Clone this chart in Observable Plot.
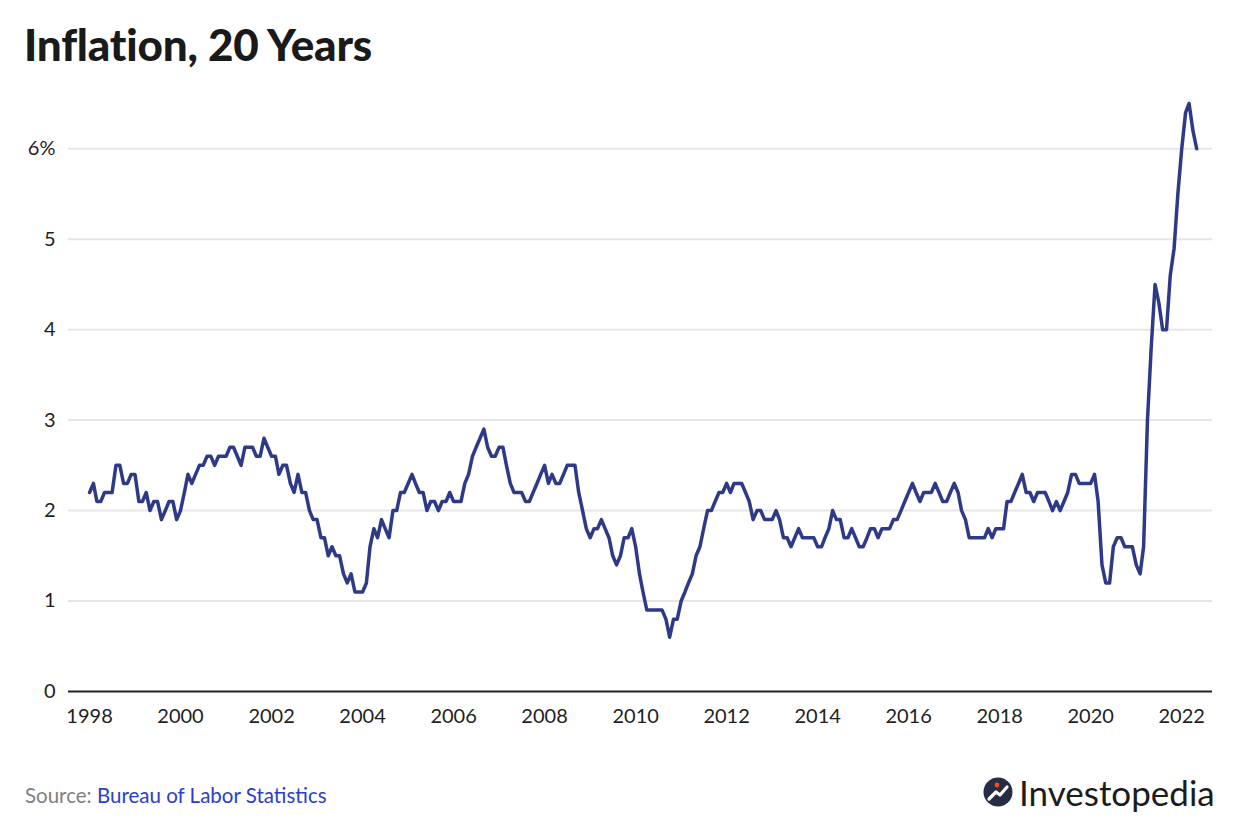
<!DOCTYPE html>
<html>
<head>
<meta charset="utf-8">
<script src="https://cdn.jsdelivr.net/npm/d3@7"></script>
<script src="https://cdn.jsdelivr.net/npm/@observablehq/plot@0.6"></script>
<style>
  html, body { margin: 0; padding: 0; background: #fff; }
  body { width: 1256px; height: 828px; position: relative; overflow: hidden; font-family: Lato, "Noto Sans", sans-serif; }
  #title { position: absolute; left: 24px; top: 22px; font-size: 44px; line-height: 44px; font-weight: 900; color: #1a1a1a; letter-spacing: -0.2px; }
  #chart { position: absolute; left: 0; top: 80px; }
  #source { position: absolute; left: 25px; top: 782px; font-size: 20.5px; line-height: 26px; color: #808080; }
  #source span { color: #2b3dcc; }
  #logo { position: absolute; left: 983px; top: 770px; display: flex; align-items: center; }
  #logo .word { font-size: 35px; line-height: 44px; color: #1c1c1c; font-weight: 400; margin-left: 6px; }
</style>
</head>
<body>
<div id="title">Inflation, 20 Years</div>
<div id="chart"></div>
<div id="source">Source: <span>Bureau of Labor Statistics</span></div>
<div id="logo">
  <svg width="30" height="30" viewBox="0 0 30 30">
    <circle cx="15" cy="15" r="14.5" fill="#262c44"/>
    <path d="M6 22 L13 15 L17 18 L24 10" stroke="#fff" stroke-width="3.2" fill="none" stroke-linecap="round" stroke-linejoin="round"/>
    <circle cx="14" cy="8" r="2.4" fill="#f04e23"/>
  </svg>
  <span class="word">Investopedia</span>
</div>
<script>
// Core CPI, year-over-year % change, monthly from Jan 1998 to May 2022
const startYear = 1998;
const inflation = [
  // 1998
  2.2, 2.3, 2.1, 2.1, 2.2, 2.2, 2.2, 2.5, 2.5, 2.3, 2.3, 2.4,
  // 1999
  2.4, 2.1, 2.1, 2.2, 2.0, 2.1, 2.1, 1.9, 2.0, 2.1, 2.1, 1.9,
  // 2000
  2.0, 2.2, 2.4, 2.3, 2.4, 2.5, 2.5, 2.6, 2.6, 2.5, 2.6, 2.6,
  // 2001
  2.6, 2.7, 2.7, 2.6, 2.5, 2.7, 2.7, 2.7, 2.6, 2.6, 2.8, 2.7,
  // 2002
  2.6, 2.6, 2.4, 2.5, 2.5, 2.3, 2.2, 2.4, 2.2, 2.2, 2.0, 1.9,
  // 2003
  1.9, 1.7, 1.7, 1.5, 1.6, 1.5, 1.5, 1.3, 1.2, 1.3, 1.1, 1.1,
  // 2004
  1.1, 1.2, 1.6, 1.8, 1.7, 1.9, 1.8, 1.7, 2.0, 2.0, 2.2, 2.2,
  // 2005
  2.3, 2.4, 2.3, 2.2, 2.2, 2.0, 2.1, 2.1, 2.0, 2.1, 2.1, 2.2,
  // 2006
  2.1, 2.1, 2.1, 2.3, 2.4, 2.6, 2.7, 2.8, 2.9, 2.7, 2.6, 2.6,
  // 2007
  2.7, 2.7, 2.5, 2.3, 2.2, 2.2, 2.2, 2.1, 2.1, 2.2, 2.3, 2.4,
  // 2008
  2.5, 2.3, 2.4, 2.3, 2.3, 2.4, 2.5, 2.5, 2.5, 2.2, 2.0, 1.8,
  // 2009
  1.7, 1.8, 1.8, 1.9, 1.8, 1.7, 1.5, 1.4, 1.5, 1.7, 1.7, 1.8,
  // 2010
  1.6, 1.3, 1.1, 0.9, 0.9, 0.9, 0.9, 0.9, 0.8, 0.6, 0.8, 0.8,
  // 2011
  1.0, 1.1, 1.2, 1.3, 1.5, 1.6, 1.8, 2.0, 2.0, 2.1, 2.2, 2.2,
  // 2012
  2.3, 2.2, 2.3, 2.3, 2.3, 2.2, 2.1, 1.9, 2.0, 2.0, 1.9, 1.9,
  // 2013
  1.9, 2.0, 1.9, 1.7, 1.7, 1.6, 1.7, 1.8, 1.7, 1.7, 1.7, 1.7,
  // 2014
  1.6, 1.6, 1.7, 1.8, 2.0, 1.9, 1.9, 1.7, 1.7, 1.8, 1.7, 1.6,
  // 2015
  1.6, 1.7, 1.8, 1.8, 1.7, 1.8, 1.8, 1.8, 1.9, 1.9, 2.0, 2.1,
  // 2016
  2.2, 2.3, 2.2, 2.1, 2.2, 2.2, 2.2, 2.3, 2.2, 2.1, 2.1, 2.2,
  // 2017
  2.3, 2.2, 2.0, 1.9, 1.7, 1.7, 1.7, 1.7, 1.7, 1.8, 1.7, 1.8,
  // 2018
  1.8, 1.8, 2.1, 2.1, 2.2, 2.3, 2.4, 2.2, 2.2, 2.1, 2.2, 2.2,
  // 2019
  2.2, 2.1, 2.0, 2.1, 2.0, 2.1, 2.2, 2.4, 2.4, 2.3, 2.3, 2.3,
  // 2020
  2.3, 2.4, 2.1, 1.4, 1.2, 1.2, 1.6, 1.7, 1.7, 1.6, 1.6, 1.6,
  // 2021
  1.4, 1.3, 1.6, 3.0, 3.8, 4.5, 4.3, 4.0, 4.0, 4.6, 4.9, 5.5,
  // 2022
  6.0, 6.4, 6.5, 6.2, 6.0
];
const tickYears = [1998, 2000, 2002, 2004, 2006, 2008, 2010, 2012, 2014, 2016, 2018, 2020, 2022];
const yTicks = [0, 1, 2, 3, 4, 5, 6];

const data = inflation.map((v, i) => ({
  date: new Date(Date.UTC(startYear + Math.floor(i / 12), i % 12, 1)),
  value: v
}));

const chart = Plot.plot({
  width: 1256,
  height: 651,
  marginLeft: 68,
  marginRight: 44,
  marginTop: 23,
  marginBottom: 40,
  style: { fontFamily: "Lato, 'Noto Sans', sans-serif", fontSize: "20px", color: "#1e1e1e", background: "#fff" },
  x: {
    type: "utc",
    domain: [new Date(Date.UTC(1997, 6, 16)), new Date(Date.UTC(2022, 8, 5))],
    ticks: tickYears.map(y => new Date(Date.UTC(y, 0, 1))),
    tickFormat: d3.utcFormat("%Y"),
    tickSize: 0,
    tickPadding: 17,
    label: null
  },
  y: {
    domain: [0, 6.5],
    ticks: yTicks,
    tickFormat: d => d === 6 ? "6%" : String(d),
    tickSize: 0,
    tickPadding: 13,
    label: null
  },
  marks: [
    Plot.ruleY(yTicks.filter(d => d !== 0), { stroke: "#e6e6e6", strokeWidth: 2 }),
    Plot.ruleY([0], { stroke: "#222", strokeWidth: 2 }),
    Plot.lineY(data, { x: "date", y: "value", stroke: "#2e3a87", strokeWidth: 3.5, strokeLinejoin: "round", strokeLinecap: "round" })
  ]
});
document.getElementById("chart").appendChild(chart);
</script>
</body>
</html>
